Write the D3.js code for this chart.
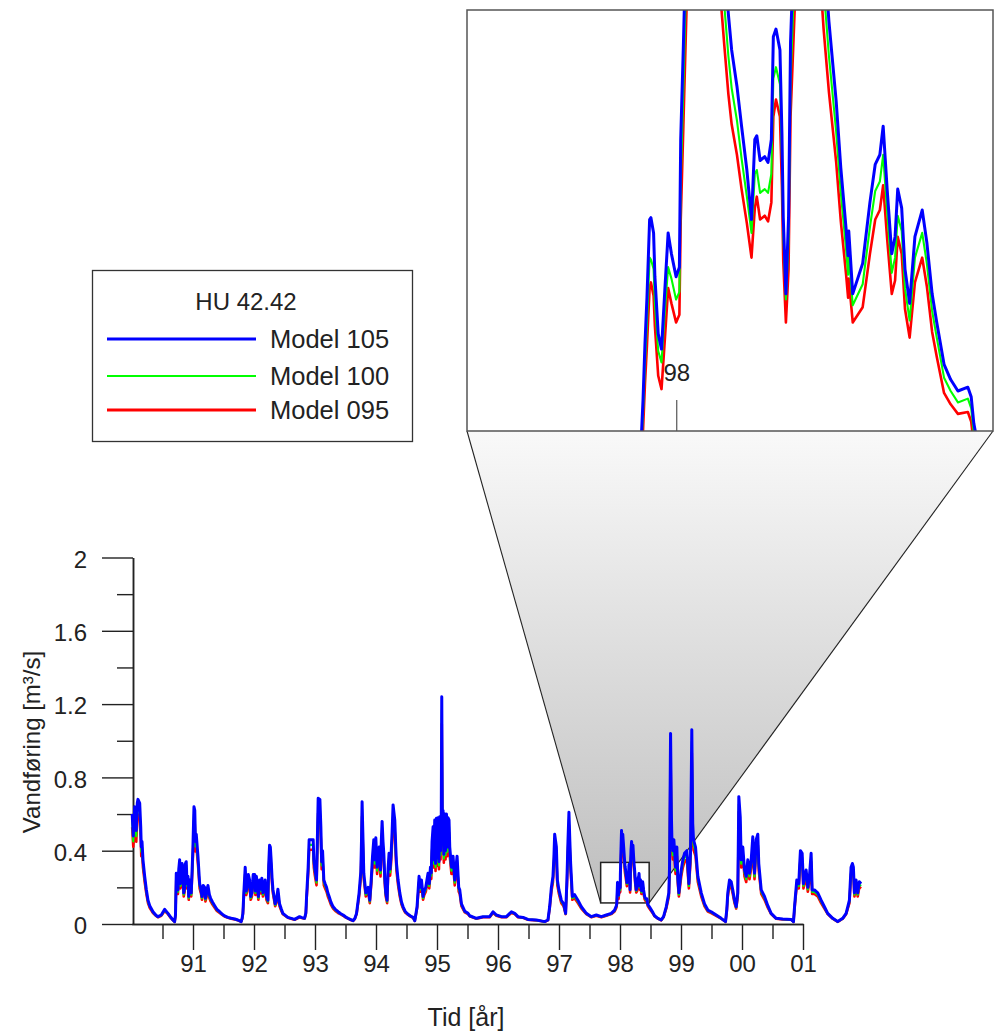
<!DOCTYPE html>
<html>
<head>
<meta charset="utf-8">
<script src="https://cdn.jsdelivr.net/npm/d3@7"></script>
<style>
  html, body { margin: 0; padding: 0; background: #fff; }
  svg { display: block; }
  text { font-family: "Liberation Sans", Arial, sans-serif; fill: #222; }
</style>
</head>
<body>
<svg id="chart" width="994" height="1034"></svg>
<script>
// Discharge series for HU 42.42, decimal years
const dates = [
  // 1990
  1990.003,1990.021,1990.044,1990.070,1990.087,1990.098,1990.126,1990.143,1990.152,1990.164,1990.180,1990.208,1990.234,1990.262,1990.290,1990.344,1990.393,1990.426,1990.480,1990.536,1990.590,1990.639,1990.672,1990.699,1990.713,1990.726,1990.740,1990.753,1990.767,1990.781,1990.794,1990.808,1990.821,1990.835,1990.848,1990.863,1990.876,1990.889,1990.902,1990.917,1990.930,1990.945,1990.958,1990.971,1990.986,1990.999,
  // 1991
  1991.016,1991.029,1991.040,1991.053,1991.081,1991.109,1991.130,1991.147,1991.168,1991.191,1991.204,1991.217,1991.232,1991.245,1991.269,1991.289,1991.319,1991.355,1991.392,1991.437,1991.474,1991.518,1991.572,1991.627,1991.687,1991.736,1991.790,1991.805,1991.818,1991.835,1991.856,1991.872,1991.887,1991.907,1991.928,1991.946,1991.966,1991.987,
  // 1992
  1992.010,1992.023,1992.039,1992.052,1992.072,1992.092,1992.113,1992.129,1992.146,1992.166,1992.183,1992.203,1992.228,1992.241,1992.255,1992.268,1992.281,1992.296,1992.310,1992.347,1992.367,1992.392,1992.419,1992.449,1992.473,1992.555,1992.665,1992.747,1992.785,1992.829,1992.850,1992.862,1992.888,1992.904,1992.932,1992.970,1992.981,1992.998,
  // 1993
  1993.025,1993.038,1993.052,1993.080,1993.096,1993.109,1993.124,1993.145,1993.166,1993.189,1993.210,1993.232,1993.260,1993.297,1993.333,1993.379,1993.423,1993.461,1993.505,1993.543,1993.587,1993.625,1993.653,1993.681,1993.723,1993.751,1993.762,1993.772,1993.784,1993.800,1993.833,1993.871,1993.898,1993.923,1993.943,1993.964,1993.980,1993.997,
  // 1994
  1994.018,1994.034,1994.051,1994.074,1994.087,1994.100,1994.115,1994.128,1994.144,1994.160,1994.182,1994.198,1994.214,1994.231,1994.247,1994.264,1994.280,1994.308,1994.324,1994.336,1994.362,1994.390,1994.418,1994.444,1994.477,1994.509,1994.559,1994.608,1994.636,1994.652,1994.673,1994.690,1994.706,1994.726,1994.745,1994.772,1994.791,1994.816,1994.835,1994.853,1994.873,1994.893,1994.906,1994.919,1994.936,1994.947,1994.963,1994.976,1994.991,
  // 1995
  1995.004,1995.017,1995.032,1995.045,1995.058,1995.070,1995.078,1995.088,1995.099,1995.112,1995.127,1995.140,1995.155,1995.168,1995.181,1995.197,1995.209,1995.237,1995.263,1995.291,1995.329,1995.356,1995.373,1995.401,1995.455,1995.509,1995.536,1995.646,1995.754,1995.864,1995.918,1995.974,
  // 1996
  1996.056,1996.138,1996.220,1996.274,1996.328,1996.410,1996.491,1996.629,1996.765,1996.819,1996.847,1996.875,1996.901,1996.916,1996.929,1996.945,1996.957,1996.973,1996.999,
  // 1997
  1997.038,1997.076,1997.109,1997.130,1997.147,1997.163,1997.178,1997.191,1997.219,1997.256,1997.310,1997.366,1997.448,1997.530,1997.612,1997.694,1997.776,1997.857,1997.912,1997.940,
  1997.946,1997.949,1997.952,1997.955,1997.959,1997.961,1997.965,1997.967,1997.972,1997.977,1997.982,1997.987,1997.992,1997.999,
  // 1998
  1998.004,1998.006,1998.010,1998.016,1998.025,1998.035,1998.045,1998.060,1998.072,1998.078,1998.083,1998.091,1998.098,1998.106,1998.113,1998.118,1998.121,1998.126,1998.133,1998.138,1998.143,1998.146,1998.150,1998.156,1998.159,1998.161,1998.165,1998.169,1998.172,1998.180,1998.190,1998.200,1998.212,1998.222,1998.230,1998.241,1998.248,1998.256,1998.259,1998.260,1998.266,1998.281,1998.292,1998.300,1998.307,1998.312,1998.318,1998.325,1998.330,1998.334,1998.340,1998.345,1998.352,1998.360,1998.371,1998.378,1998.386,1998.393,1998.404,1998.414,1998.425,1998.440,1998.445,1998.449,1998.455,
  1998.490,1998.540,1998.567,1998.621,1998.676,1998.714,1998.758,1998.801,1998.812,1998.829,1998.842,1998.850,1998.866,1998.883,1998.911,1998.932,1998.948,1998.965,
  // 1999
  1999.004,1999.030,1999.058,1999.096,1999.129,1999.156,1999.177,1999.192,1999.205,1999.238,1999.276,1999.332,1999.386,1999.440,1999.495,1999.577,1999.659,1999.730,1999.751,1999.767,1999.795,1999.823,1999.849,1999.877,1999.905,1999.931,1999.948,1999.971,1999.987,
  // 2000
  2000.013,2000.041,2000.069,2000.095,2000.123,2000.151,2000.177,2000.205,2000.233,2000.259,2000.275,2000.315,2000.369,2000.423,2000.478,2000.560,2000.668,2000.806,2000.844,2000.865,2000.898,2000.931,2000.945,2000.958,2000.986,
  // 2001
  2001.007,2001.051,2001.079,2001.106,2001.133,2001.150,2001.188,2001.242,2001.297,2001.351,2001.405,2001.487,2001.569,2001.651,2001.707,2001.761,2001.788,2001.810,2001.826,2001.843,2001.870,2001.897,2001.924,2001.952
];

// Vandføring [m³/s], Model 105
const model105 = [
  .60,.48,.64,.51,.66,.68,.66,.53,.42,.45,.35,.26,.19,.13,.10,.067,.048,.040,.049,.080,.058,.035,.022,.013,.050,.277,.20,.186,.30,.35,.22,.24,.33,.31,.17,.20,.33,.34,.22,.26,.15,.24,.20,.17,.30,.42,
  .64,.62,.45,.49,.37,.22,.19,.15,.21,.20,.14,.16,.19,.21,.16,.14,.12,.10,.08,.067,.055,.044,.036,.031,.027,.022,.013,.030,.058,.18,.31,.18,.20,.27,.24,.15,.17,.27,
  .27,.18,.26,.22,.15,.24,.19,.25,.17,.20,.24,.15,.13,.32,.43,.42,.35,.25,.19,.11,.13,.19,.11,.08,.058,.036,.025,.040,.035,.031,.060,.15,.31,.46,.46,.46,.35,.30,
  .24,.45,.686,.68,.53,.34,.40,.24,.22,.20,.17,.15,.12,.094,.08,.067,.056,.049,.038,.031,.024,.018,.030,.058,.17,.285,.45,.667,.50,.277,.17,.20,.13,.25,.37,.46,.35,.47,
  .31,.40,.42,.295,.45,.56,.45,.386,.25,.17,.13,.30,.386,.30,.376,.50,.65,.567,.42,.33,.24,.17,.12,.094,.07,.058,.045,.036,.018,.05,.094,.18,.26,.20,.24,.15,.18,.20,.24,.277,.22,.31,.28,.45,.53,.35,.567,.33,.577,
  .36,.58,.34,.585,.40,.60,1.24,.55,.62,.38,.60,.40,.60,.42,.58,.567,.42,.31,.37,.24,.37,.20,.186,.11,.07,.058,.045,.031,.040,.040,.067,.049,
  .040,.040,.067,.058,.040,.036,.025,.022,.013,.022,.094,.20,.26,.36,.49,.45,.42,.24,.186,
  .13,.11,.058,.24,.45,.61,.45,.33,.15,.16,.13,.094,.058,.040,.049,.040,.049,.058,.076,.10,
  .108,.131,.161,.185,.226,.227,.219,.196,.166,.158,.189,.219,.208,.196,
  .201,.268,.317,.40,.51,.44,.49,.42,.36,.334,.315,.296,.275,.252,.226,.268,.270,.257,.259,.256,.268,.322,.326,.315,.271,.227,.187,.227,.319,.40,.45,.40,.43,.37,.330,.288,.253,.221,.207,.220,.187,.203,.235,.255,.260,.275,.242,.208,.217,.242,.232,.200,.182,.217,.231,.214,.187,.172,.150,.142,.136,.138,.133,.119,.108,
  .090,.062,.045,.031,.022,.040,.094,.17,.31,1.04,.60,.476,.40,.46,.31,.42,.25,.17,
  .295,.35,.386,.40,.22,.386,1.06,.55,.46,.42,.26,.17,.11,.076,.067,.049,.031,.013,.08,.17,.24,.23,.186,.13,.094,.17,.695,.585,.35,
  .42,.295,.26,.35,.277,.35,.476,.277,.46,.49,.33,.186,.15,.10,.058,.031,.027,.025,.013,.11,.24,.22,.32,.40,.386,
  .22,.295,.20,.26,.386,.186,.186,.17,.13,.094,.058,.031,.013,.031,.058,.13,.31,.33,.31,.17,.24,.17,.23,.22
];

// Model 100
const model100 = [
  .564,.451,.602,.479,.62,.639,.62,.498,.395,.423,.329,.244,.179,.122,.095,.064,.046,.039,.047,.076,.056,.034,.021,.013,.048,.26,.188,.175,.282,.329,.207,.226,.31,.291,.16,.188,.31,.32,.207,.244,.141,.226,.188,.16,.282,.395,
  .602,.583,.423,.461,.348,.207,.179,.141,.197,.188,.132,.15,.179,.197,.15,.132,.113,.095,.076,.064,.053,.043,.035,.03,.026,.021,.013,.029,.056,.169,.291,.169,.188,.254,.226,.141,.16,.254,
  .254,.169,.244,.207,.141,.226,.179,.235,.16,.188,.226,.141,.122,.301,.404,.395,.329,.235,.179,.103,.122,.179,.103,.076,.056,.035,.024,.039,.034,.03,.057,.141,.291,.432,.432,.432,.329,.282,
  .226,.423,.645,.639,.498,.32,.376,.226,.207,.188,.16,.141,.113,.089,.076,.064,.054,.047,.037,.03,.023,.018,.029,.056,.16,.268,.423,.627,.47,.26,.16,.188,.122,.235,.348,.432,.329,.442,
  .291,.376,.395,.277,.423,.526,.423,.363,.235,.16,.122,.282,.363,.282,.353,.47,.611,.533,.395,.31,.226,.16,.113,.089,.067,.056,.044,.035,.018,.048,.089,.169,.244,.188,.226,.141,.169,.188,.226,.26,.207,.291,.263,.423,.498,.329,.533,.31,.542,
  .338,.545,.32,.55,.376,.564,1.166,.517,.583,.357,.564,.376,.564,.395,.545,.533,.395,.291,.348,.226,.348,.188,.175,.103,.067,.056,.044,.03,.039,.039,.064,.047,
  .039,.039,.064,.056,.039,.035,.024,.021,.013,.021,.089,.188,.244,.338,.461,.423,.395,.226,.175,
  .122,.103,.056,.226,.423,.573,.423,.31,.141,.15,.122,.089,.056,.039,.047,.039,.047,.056,.072,.095,
  .104,.124,.150,.172,.206,.205,.200,.182,.157,.151,.178,.201,.195,.184,
  .188,.245,.295,.376,.479,.414,.461,.395,.338,.312,.295,.278,.258,.238,.219,.25,.252,.24,.242,.24,.25,.30,.306,.297,.258,.218,.184,.215,.298,.376,.423,.376,.404,.348,.312,.272,.24,.21,.197,.208,.181,.192,.222,.241,.246,.26,.23,.198,.206,.228,.22,.19,.173,.206,.219,.203,.178,.164,.143,.136,.13,.132,.127,.114,.103,
  .086,.06,.044,.03,.021,.039,.089,.16,.291,.978,.564,.447,.376,.432,.291,.395,.235,.16,
  .277,.329,.363,.376,.207,.363,.996,.517,.432,.395,.244,.16,.103,.072,.064,.047,.03,.013,.076,.16,.226,.216,.175,.122,.089,.16,.653,.55,.329,
  .395,.277,.244,.329,.26,.329,.447,.26,.432,.461,.31,.175,.141,.095,.056,.03,.026,.024,.013,.103,.226,.207,.301,.376,.363,
  .207,.277,.188,.244,.363,.175,.175,.16,.122,.089,.056,.03,.013,.03,.056,.122,.291,.31,.291,.16,.226,.16,.216,.207
];

// Model 095
const model095 = [
  .528,.422,.563,.449,.581,.598,.581,.466,.37,.396,.308,.229,.167,.114,.089,.06,.044,.037,.045,.071,.054,.032,.02,.012,.046,.244,.176,.164,.264,.308,.194,.211,.29,.273,.15,.176,.29,.299,.194,.229,.132,.211,.176,.15,.264,.37,
  .563,.546,.396,.431,.326,.194,.167,.132,.185,.176,.123,.141,.167,.185,.141,.123,.106,.089,.071,.06,.051,.041,.034,.029,.025,.02,.012,.028,.054,.158,.273,.158,.176,.238,.211,.132,.15,.238,
  .238,.158,.229,.194,.132,.211,.167,.22,.15,.176,.211,.132,.114,.282,.378,.37,.308,.22,.167,.097,.114,.167,.097,.071,.054,.034,.023,.037,.033,.029,.055,.132,.273,.405,.405,.405,.308,.264,
  .211,.396,.604,.598,.466,.299,.352,.211,.194,.176,.15,.132,.106,.084,.071,.06,.052,.045,.035,.029,.022,.017,.028,.054,.15,.251,.396,.587,.44,.244,.15,.176,.114,.22,.326,.405,.308,.414,
  .273,.352,.37,.26,.396,.493,.396,.34,.22,.15,.114,.264,.34,.264,.331,.44,.572,.499,.37,.29,.211,.15,.106,.084,.063,.054,.042,.034,.017,.046,.084,.158,.229,.176,.211,.132,.158,.176,.211,.244,.194,.273,.246,.396,.466,.308,.499,.29,.508,
  .317,.51,.299,.515,.352,.528,1.091,.484,.546,.334,.528,.352,.528,.37,.51,.499,.37,.273,.326,.211,.326,.176,.164,.097,.063,.054,.042,.029,.037,.037,.06,.045,
  .037,.037,.06,.054,.037,.034,.023,.02,.012,.02,.084,.176,.229,.317,.431,.396,.37,.211,.164,
  .114,.097,.054,.211,.396,.537,.396,.29,.132,.141,.114,.084,.054,.037,.045,.037,.045,.054,.068,.089,
  .098,.115,.140,.160,.190,.193,.186,.170,.144,.137,.163,.190,.182,.172,
  .176,.225,.275,.352,.449,.387,.431,.37,.317,.292,.276,.26,.242,.224,.206,.232,.238,.226,.228,.225,.235,.28,.289,.28,.243,.204,.172,.2,.28,.352,.396,.352,.378,.326,.293,.256,.225,.197,.185,.195,.172,.18,.208,.226,.231,.244,.216,.187,.194,.217,.208,.179,.164,.193,.206,.191,.167,.154,.135,.129,.124,.125,.12,.108,.098,
  .081,.057,.042,.029,.02,.037,.084,.15,.273,.915,.528,.419,.352,.405,.273,.37,.22,.15,
  .26,.308,.34,.352,.194,.34,.933,.484,.405,.37,.229,.15,.097,.068,.06,.045,.029,.012,.071,.15,.211,.202,.164,.114,.084,.15,.612,.515,.308,
  .37,.26,.229,.308,.244,.308,.419,.244,.405,.431,.29,.164,.132,.089,.054,.029,.025,.023,.012,.097,.211,.194,.282,.352,.34,
  .194,.26,.176,.229,.34,.164,.164,.15,.114,.084,.054,.029,.012,.029,.054,.114,.273,.29,.273,.15,.211,.15,.202,.194
];

const seriesNames = ["Model 105", "Model 100", "Model 095"];
const seriesColors = ["#0000ff", "#00ff00", "#ff0000"];
const yMajorTicks = [0, 0.4, 0.8, 1.2, 1.6, 2];
const yMinorTicks = [0.2, 0.6, 1.0, 1.4, 1.8];
const yearTicks = [1991, 1992, 1993, 1994, 1995, 1996, 1997, 1998, 1999, 2000, 2001];
const halfYearTicks = [1990.5, 1991.5, 1992.5, 1993.5, 1994.5, 1995.5, 1996.5, 1997.5, 1998.5, 1999.5, 2000.5];
const zoomWindow = { t: [1997.683, 1998.478], v: [0.115, 0.336] };
const legendTitle = "HU 42.42";

const svg = d3.select("#chart");
const FONT = 24;

const rows = dates.map((t, i) => ({ t, v: [model105[i], model100[i], model095[i]] }));

// main plot scales
const x = d3.scaleLinear().domain([1990, 2001]).range([132, 803]);
const y = d3.scaleLinear().domain([0, 2]).range([924, 557.5]);

// inset scales
const xi = d3.scaleLinear().domain(zoomWindow.t).range([467, 993]);
const yi = d3.scaleLinear().domain(zoomWindow.v).range([431, 10]);

// drawing order and stroke widths: Model 095 under, Model 105 on top
const drawOrder = [
  { k: 2, w: 2.6 },
  { k: 1, w: 2.1 },
  { k: 0, w: 3 }
];

// ---------- zoom fan (gradient between rectangle and inset) ----------
const defs = svg.append("defs");
const grad = defs.append("linearGradient")
  .attr("id", "fan").attr("gradientUnits", "userSpaceOnUse")
  .attr("x1", 0).attr("y1", 431).attr("x2", 0).attr("y2", y(zoomWindow.v[0]));
grad.append("stop").attr("offset", 0).attr("stop-color", "#f9f9f9");
grad.append("stop").attr("offset", 1).attr("stop-color", "#bebebe");

const rx0 = x(zoomWindow.t[0]), rx1 = x(zoomWindow.t[1]);
const ry0 = y(zoomWindow.v[1]), ry1 = y(zoomWindow.v[0]);

svg.append("polygon")
  .attr("points", [[467, 431], [993, 431], [rx1, ry1], [rx0, ry1]].map(p => p.join(",")).join(" "))
  .attr("fill", "url(#fan)");
svg.append("line").attr("x1", 467).attr("y1", 431).attr("x2", rx0).attr("y2", ry1)
  .attr("stroke", "#222").attr("stroke-width", 1.1);
svg.append("line").attr("x1", 993).attr("y1", 431).attr("x2", rx1).attr("y2", ry1)
  .attr("stroke", "#222").attr("stroke-width", 1.1);

// ---------- inset ----------
defs.append("clipPath").attr("id", "insetClip")
  .append("rect").attr("x", 467).attr("y", 10).attr("width", 526).attr("height", 421);

svg.append("rect").attr("x", 467).attr("y", 10).attr("width", 526).attr("height", 421)
  .attr("fill", "#fff");

const insetTick = xi(1998);
svg.append("line").attr("x1", insetTick).attr("x2", insetTick).attr("y1", 400).attr("y2", 431)
  .attr("stroke", "#555").attr("stroke-width", 1.2);
svg.append("text").attr("x", insetTick).attr("y", 372)
  .attr("text-anchor", "middle").attr("dominant-baseline", "central")
  .attr("font-size", FONT).text("98");

const insetRows = rows.filter(d => d.t > zoomWindow.t[0] - 0.05 && d.t < zoomWindow.t[1] + 0.05);
const gInset = svg.append("g").attr("clip-path", "url(#insetClip)");
drawOrder.forEach(s => {
  gInset.append("path")
    .datum(insetRows)
    .attr("fill", "none")
    .attr("stroke", seriesColors[s.k])
    .attr("stroke-width", s.w)
    .attr("stroke-linejoin", "round")
    .attr("d", d3.line().x(d => xi(d.t)).y(d => yi(d.v[s.k])));
});
svg.append("rect").attr("x", 467).attr("y", 10).attr("width", 526).attr("height", 421)
  .attr("fill", "none").attr("stroke", "#555").attr("stroke-width", 1.5);

// ---------- legend ----------
const lg = svg.append("g");
lg.append("rect").attr("x", 92.5).attr("y", 270.5).attr("width", 320).attr("height", 171)
  .attr("fill", "#fff").attr("stroke", "#333").attr("stroke-width", 1.3);
lg.append("text").attr("x", 246).attr("y", 301)
  .attr("text-anchor", "middle").attr("dominant-baseline", "central")
  .attr("font-size", FONT).text(legendTitle);
const legendY = [339, 376, 410];
const legendW = [3, 2, 3];
seriesNames.forEach((name, i) => {
  lg.append("line").attr("x1", 107).attr("x2", 256).attr("y1", legendY[i]).attr("y2", legendY[i])
    .attr("stroke", seriesColors[i]).attr("stroke-width", legendW[i]);
  lg.append("text").attr("x", 270).attr("y", legendY[i])
    .attr("dominant-baseline", "central").attr("font-size", 25.5).text(name);
});

// ---------- axes ----------
const axisColor = "#222";
const yAxis = svg.append("g").attr("transform", "translate(133,0)")
  .call(d3.axisLeft(y).tickValues(yMajorTicks).tickSize(31).tickSizeOuter(0).tickPadding(15)
    .tickFormat(d => String(d)));
const yMinor = svg.append("g").attr("transform", "translate(133,0)")
  .call(d3.axisLeft(y).tickValues(yMinorTicks).tickSize(16).tickSizeOuter(0).tickFormat(""));
const xAxis = svg.append("g").attr("transform", "translate(0,924)")
  .call(d3.axisBottom(x).tickValues(yearTicks).tickSize(26).tickSizeOuter(0).tickPadding(5)
    .tickFormat(d => String(d % 100).padStart(2, "0")));
const xMinor = svg.append("g").attr("transform", "translate(0,924)")
  .call(d3.axisBottom(x).tickValues(halfYearTicks).tickSize(15).tickSizeOuter(0).tickFormat(""));

[yAxis, yMinor, xAxis, xMinor].forEach(g => {
  g.selectAll("path.domain").attr("stroke", axisColor).attr("stroke-width", 1.5);
  g.selectAll(".tick line").attr("stroke", axisColor).attr("stroke-width", 1.4);
  g.selectAll(".tick text").attr("font-size", FONT).attr("font-family", null).attr("fill", "#222");
});
yAxis.selectAll(".tick text").attr("dy", "0.4em");

svg.append("text").attr("x", 466).attr("y", 1017)
  .attr("text-anchor", "middle").attr("dominant-baseline", "central")
  .attr("font-size", 25).text("Tid [år]");
svg.append("text")
  .attr("transform", "translate(31,742) rotate(-90)")
  .attr("text-anchor", "middle").attr("dominant-baseline", "central")
  .attr("font-size", FONT).text("Vandføring [m³/s]");

// ---------- zoom rectangle and main series ----------
svg.append("rect").attr("x", rx0).attr("y", ry0).attr("width", rx1 - rx0).attr("height", ry1 - ry0)
  .attr("fill", "#fff").attr("stroke", "#222").attr("stroke-width", 1.5);

const gMain = svg.append("g");
drawOrder.forEach(s => {
  gMain.append("path")
    .datum(rows)
    .attr("fill", "none")
    .attr("stroke", seriesColors[s.k])
    .attr("stroke-width", s.w)
    .attr("stroke-linejoin", "round")
    .attr("d", d3.line().x(d => x(d.t)).y(d => y(d.v[s.k])));
});
</script>
</body>
</html>
